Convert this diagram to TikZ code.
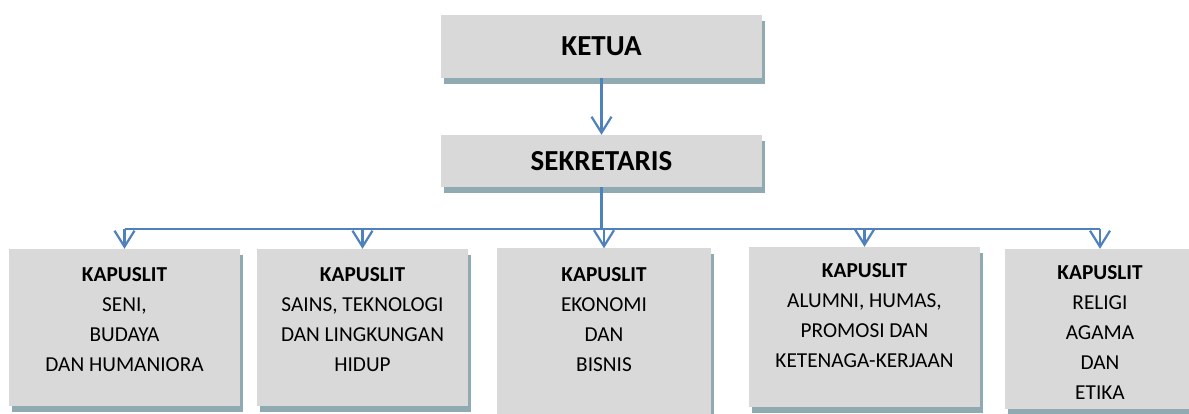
\documentclass[tikz,border=0pt]{standalone}
\usepackage{fontspec}
\setmainfont{Carlito}
\usetikzlibrary{arrows.meta,positioning,shadows}
\definecolor{boxgray}{HTML}{D9D9D9}
\definecolor{shadowteal}{HTML}{8FAAB1}
\definecolor{linkblue}{HTML}{4F81BD}
\tikzset{
  orgbox/.style={fill=boxgray, inner sep=0pt,
    drop shadow={shadow xshift=3pt, shadow yshift=-6pt, fill=shadowteal, opacity=1}},
  headtext/.style={font=\fontsize{29}{34}\selectfont\bfseries},
  unittext/.style={align=center, inner sep=0pt, font=\fontsize{21.3}{30}\selectfont},
  link/.style={draw=linkblue, line width=2.2pt},
  linkarrow/.style={-{Straight Barb[length=16pt,width=20pt]}}
}

\begin{document}
\begin{tikzpicture}[x=1pt,y=1pt]
  \useasboundingbox (0,0) rectangle (1189,414);

  % Top boxes
  \node[orgbox, headtext, minimum width=321pt, minimum height=63pt] (ketua) at (601.5,367.5) {KETUA};
  \node[orgbox, headtext, minimum width=321pt, minimum height=52pt] (sekretaris) at (601.5,253) {SEKRETARIS};

  % Kapuslit boxes
  \node[orgbox, minimum width=231pt, minimum height=157pt] (k1) at (124.5,86.5) {};
  \node[orgbox, minimum width=211pt, minimum height=157pt] (k2) at (362.5,86.5) {};
  \node[orgbox, minimum width=214pt, minimum height=166pt] (k3) at (604,82.5) {};
  \node[orgbox, minimum width=231pt, minimum height=160pt] (k4) at (864.5,87) {};
  \node[orgbox, minimum width=190pt, minimum height=160pt] (k5) at (1100,85) {};

  \node[unittext, below=19pt of k1.north] (t1) {\textbf{KAPUSLIT}\\SENI,\\BUDAYA\\DAN HUMANIORA};
  \node[unittext, below=19pt of k2.north] (t2) {\textbf{KAPUSLIT}\\SAINS, TEKNOLOGI\\DAN LINGKUNGAN\\HIDUP};
  \node[unittext, below=19pt of k3.north] (t3) {\textbf{KAPUSLIT}\\EKONOMI\\DAN\\BISNIS};
  \node[unittext, below=17pt of k4.north] (t4) {\textbf{KAPUSLIT}\\ALUMNI, HUMAS,\\PROMOSI DAN\\KETENAGA-KERJAAN};
  \node[unittext, below=17pt of k5.north] (t5) {\textbf{KAPUSLIT}\\RELIGI\\AGAMA\\DAN\\ETIKA};

  % Connectors
  \coordinate (bus) at (601.5,185);
  \draw[link, linkarrow] (ketua) -- (sekretaris);
  \draw[link] (sekretaris) -- (bus);
  \draw[link] (k1.north |- bus) -- (k5.north |- bus);
  \foreach \i in {1,...,5}
    \draw[link, linkarrow] (k\i.north |- bus) -- (k\i.north);
\end{tikzpicture}
\end{document}
